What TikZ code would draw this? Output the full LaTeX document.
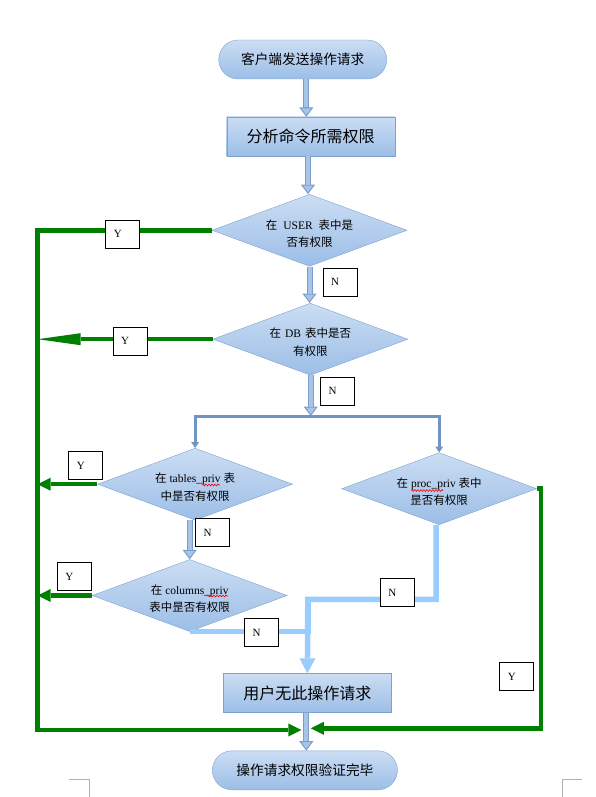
\documentclass[tikz,border=0pt]{standalone}
\usepackage{fontspec}
\setmainfont{Liberation Serif}
\newfontfamily\cjkfont{Noto Sans CJK SC}
\usetikzlibrary{arrows.meta,shapes.geometric,decorations.pathmorphing}
\definecolor{shadetop}{RGB}{203,221,243}
\definecolor{shadebot}{RGB}{156,190,231}
\definecolor{shapeedge}{RGB}{126,161,207}
\definecolor{flowfill}{RGB}{168,197,231}
\definecolor{flowedge}{RGB}{122,157,203}
\definecolor{branchblue}{RGB}{112,148,196}
\definecolor{noblue}{RGB}{153,204,255}
\definecolor{yesgreen}{RGB}{0,128,0}
\newcommand\zh[1]{{\cjkfont #1}}
\newcommand\topgap{\rule{0pt}{16pt}}

\begin{document}
\begin{tikzpicture}[
    x=1pt, y=-1pt,
    termbox/.style={rectangle, rounded corners=19.5pt, draw=shapeedge, top color=shadetop, bottom color=shadebot, minimum width=168pt, minimum height=39pt, font=\cjkfont\fontsize{13.7}{16}\selectfont},
    procbox/.style={rectangle, draw=shapeedge, top color=shadetop, bottom color=shadebot, minimum width=168pt, minimum height=39pt, font=\cjkfont\fontsize{16}{18}\selectfont},
    decision/.style={diamond, shape aspect=2.7, draw=shapeedge, top color=shadetop, bottom color=shadebot, minimum width=195pt, minimum height=72pt, inner sep=0pt, align=center, font=\fontsize{11.5}{17.5}\selectfont},
    tagbox/.style={rectangle, draw=black, line width=0.8pt, fill=white, minimum height=28pt, text width=18pt, inner xsep=8pt, align=left, font=\fontsize{11}{13}\selectfont},
    flowarrow/.style={draw=flowedge, line width=6pt, -{Triangle[width=14pt,length=9.5pt,line width=1pt,fill=flowfill]}, postaction={draw=flowfill, line width=4pt, -, shorten >=9.5pt}},
    branch/.style={draw=branchblue, line width=3pt, -{Triangle[width=8pt,length=6pt,line width=0pt]}},
    noline/.style={draw=noblue, line width=5.5pt},
    notip/.style={-{Triangle[width=16pt,length=15pt,line width=0pt]}},
    yesline/.style={draw=yesgreen, line width=4.5pt},
    yestip/.style={-{Triangle[width=13pt,length=13pt,line width=0pt]}},
    longtip/.style={-{Triangle[width=12pt,length=43pt,line width=0pt]}},
    squiggle/.style={draw=red, line width=0.6pt, decorate, decoration={snake, amplitude=0.9pt, segment length=3pt}},
    cropmark/.style={draw=black!30, line width=0.7pt}
]
\useasboundingbox (0,0) rectangle (595,797);

% Steps
\node[termbox] (request) at (302.7,59.5) {客户端发送操作请求};
\node[procbox] (analyze) at (310.7,136.5) {分析命令所需权限};
\node[decision] (usercheck) at (309.5,230.3) {\topgap\zh{在}\hspace{6pt}USER\hspace{6pt}\zh{表中是}\\\zh{否有权限}};
\node[decision] (dbcheck) at (310.4,339.2) {\topgap\zh{在}\hspace{4pt}DB\hspace{4pt}\zh{表中是否}\\\zh{有权限}};
\node[decision] (tablecheck) at (195.1,484.2) {\topgap\zh{在} tables\_priv \zh{表}\\\zh{中昰否有权限}};
\node[decision] (proccheck) at (439.2,488.7) {\topgap\zh{在} proc\_priv \zh{表中}\\\zh{昰否有权限}};
\node[decision] (colcheck) at (189.7,595.5) {\topgap\zh{在} columns\_priv\\\zh{表中昰否有权限}};
\node[procbox] (denied) at (307.4,693) {用户无此操作请求};
\node[termbox, minimum width=185pt] (done) at (304.9,770.3) {操作请求权限验证完毕};

% Junctions
\coordinate (split) at (310.8,416);
\coordinate (railtop) at (37.6,230.3);
\coordinate (railbot) at (37.6,730);
\coordinate (mergeleft) at (301.3,730);
\coordinate (railright) at (540.8,728.3);
\coordinate (mergeright) at (310.8,728.3);
\coordinate (nmerge) at (307.8,599.3);

% Arrows
\draw[flowarrow] ([xshift=3.6pt]request.south) -- ([xshift=-4.4pt]analyze.north);
\draw[flowarrow] ([xshift=-2.7pt]analyze.south) -- ([xshift=-1.5pt]usercheck.north);
\draw[flowarrow] (usercheck.south) -- (usercheck.south |- dbcheck.north);
\draw[flowarrow] (dbcheck.south -| split) -- (split);
\draw[branch] (split) -| (tablecheck.north);
\draw[branch] (split) -| (proccheck.north);
\draw[flowarrow] (tablecheck.south -| colcheck.north) -- (colcheck.north);
\draw[flowarrow] ([xshift=-1.1pt]denied.south) -- ([xshift=1.4pt]done.north);

% No permission
\draw[noline, notip] ([xshift=-3.2pt]proccheck.south) |- (nmerge) -- (denied.north);
\draw[noline] (colcheck.south) -| (nmerge);

% Permission found
\draw[yesline, yestip] (usercheck.west) -- (railtop) -- (railbot) -- (mergeleft);
\draw[yesline, longtip] (dbcheck.west) -- (dbcheck.west -| railtop);
\draw[yesline, yestip] (tablecheck.west) -- (tablecheck.west -| railtop);
\draw[yesline, yestip] (colcheck.west) -- (colcheck.west -| railtop);
\draw[yesline, yestip] (proccheck.east) -| (railright) -- (mergeright);

% Labels
\node[tagbox] (y1) at (122.8,234) {Y};
\node[tagbox] (y2) at (130,341.3) {Y};
\node[tagbox] (y3) at (85.8,465.5) {Y};
\node[tagbox] (y4) at (74.4,576.7) {Y};
\node[tagbox] (y5) at (516.8,676.5) {Y};
\node[tagbox] (n1) at (340.2,282) {N};
\node[tagbox] (n2) at (337.5,391) {N};
\node[tagbox] (n3) at (212.6,532.5) {N};
\node[tagbox] (n4) at (397.4,592.5) {N};
\node[tagbox] (n5) at (261.6,632.5) {N};

% Spell marks and page corners
\draw[squiggle] (202,485) -- (220,485);
\draw[squiggle] (411,490.5) -- (443,490.5);
\draw[squiggle] (207,596) -- (228,596);
\draw[cropmark] (68.6,779.3) -| (88.9,797);
\draw[cropmark] (581.6,779.3) -| (562.6,797);

\end{tikzpicture}
\end{document}
